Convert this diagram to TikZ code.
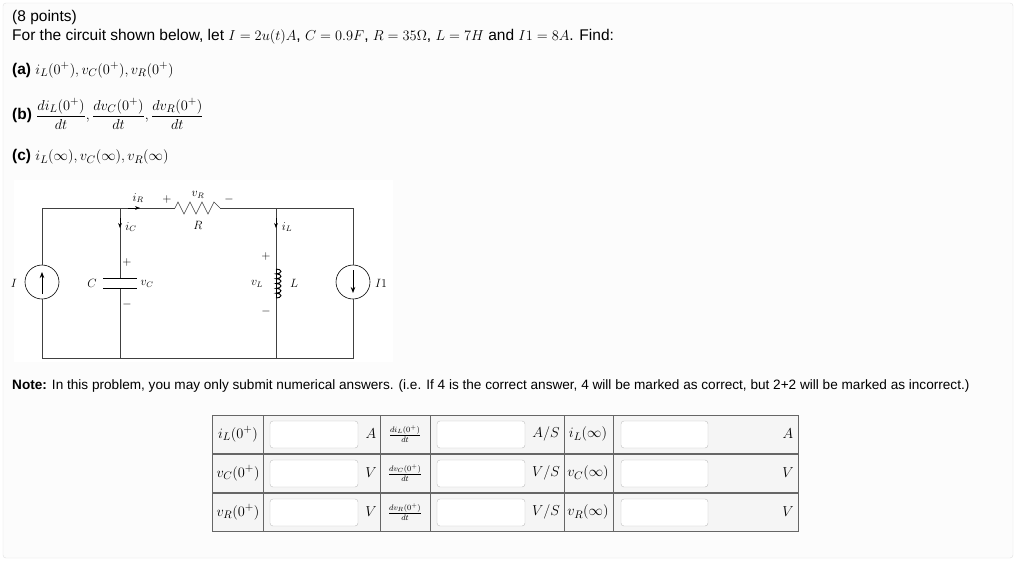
\documentclass[tikz,border=0pt]{standalone}
\usepackage{fontspec}
\setsansfont{Liberation Sans}
\usetikzlibrary{arrows.meta}
\begin{document}
\begin{tikzpicture}[x=1pt,y=-1pt,
  txt/.style={anchor=west,font=\sffamily\fontsize{15.5}{17}\selectfont,inner sep=0},
  wire/.style={draw=black!75,line width=0.6pt},
  lab/.style={font=\fontsize{12}{13}\selectfont,inner sep=1pt},
  cell/.style={draw=black!60,fill=black!4,line width=0.6pt},
  inbox/.style={draw=black!25,fill=white,rounded corners=3pt},
  tl/.style={font=\fontsize{15}{17}\selectfont,inner sep=1pt}]
\useasboundingbox (0,0) rectangle (1024,581);
\fill[white] (0,0) rectangle (1024,581);
\draw[black!12,fill=black!1,rounded corners=3pt] (3,3) rectangle (1013,558);
\node[txt] (t1) at (12,17) {(8 points)};
\node[txt] (t2) at (12,37) {For the circuit shown below, let $I=2u(t)A$, $C=0.9F$, $R=35\Omega$, $L=7H$ and $I1=8A$. Find:};
\node[txt] (ta) at (12,70) {\textbf{(a)} $i_L(0^+), v_C(0^+), v_R(0^+)$};
\node[txt] (tb) at (12,114) {\textbf{(b)} $\displaystyle\frac{di_L(0^+)}{dt},\frac{dv_C(0^+)}{dt},\frac{dv_R(0^+)}{dt}$};
\node[txt] (tc) at (12,157) {\textbf{(c)} $i_L(\infty), v_C(\infty), v_R(\infty)$};
% circuit
\fill[white] (14,180) rectangle (393,362);
\coordinate (tl0) at (42,208); \coordinate (bl0) at (42,358);
\coordinate (tc0) at (120,208); \coordinate (bc0) at (120,358);
\coordinate (tL0) at (276,208); \coordinate (bL0) at (276,358);
\coordinate (tr0) at (353,208); \coordinate (br0) at (353,358);
\coordinate (r1) at (175,208); \coordinate (r2) at (220,208);
\node[circle,draw=black,line width=0.6pt,minimum size=34pt,inner sep=0] (si) at (42,282) {};
\node[circle,draw=black,line width=0.6pt,minimum size=34pt,inner sep=0] (s1) at (353,282) {};
\draw[wire] (tl0) -- (si.north) (si.south) -- (bl0) -- (br0) -- (s1.south) (s1.north) -- (tr0) -- (r2);
\draw[wire] (r1) -- (tl0);
\draw[wire] (r1) -- ++(3,-6) -- ++(6,12) -- ++(6,-12) -- ++(6,12) -- ++(6,-12) -- ++(6,12) -- ++(6,-12) -- (r2);
\draw[-{Stealth[length=6pt]},line width=0.8pt] (42,294) -- (42,272);
\draw[-{Stealth[length=6pt]},line width=0.8pt] (353,270) -- (353,293);
\draw[wire] (tc0) -- (120,278) (120,288) -- (bc0);
\draw[line width=0.8pt] (103,278) -- (137,278) (103,288) -- (137,288);
\draw[wire] (tL0) -- (276,269) (276,298) -- (bL0);
\draw[line width=0.9pt] (276,269) \foreach \i in {1,...,6}{ arc[start angle=90,end angle=-90,x radius=5pt,y radius=2.42pt]};
\draw[line width=0.9pt] (276,269) -- (276,298);
\draw[-{Stealth[length=5pt]},line width=0.5pt] (120,218) -- (120,228);
\draw[-{Stealth[length=5pt]},line width=0.5pt] (276,218) -- (276,228);
\draw[-{Stealth[length=5pt]},line width=0.5pt] (128,208) -- (140,208);
\node[lab] (liR) at (138,198) {$i_R$};
\node[lab] (lvR) at (198,195) {$v_R$};
\node[lab] (lpR) at (167,199) {$+$};
\node[lab] (lmR) at (229,199) {$-$};
\node[lab] (lR) at (198,225) {$R$};
\node[lab] (liC) at (131,227) {$i_C$};
\node[lab] (liL) at (287,227) {$i_L$};
\node[lab] (lpC) at (127,262) {$+$};
\node[lab] (lmC) at (127,304) {$-$};
\node[lab] (lC) at (92,283) {$C$};
\node[lab] (lvC) at (147,284) {$v_C$};
\node[lab] (lpL) at (266,256) {$+$};
\node[lab] (lmL) at (266,311) {$-$};
\node[lab] (lvL) at (257,284) {$v_L$};
\node[lab] (lL) at (294,283) {$L$};
\node[lab] (lI) at (14,283) {$I$};
\node[lab] (lI1) at (381,283) {$I1$};
% note
\node[txt,font=\sffamily\fontsize{13.6}{16}\selectfont] (note) at (12,386) {\textbf{Note:} In this problem, you may only submit numerical answers. (i.e. If 4 is the correct answer, 4 will be marked as correct, but 2+2 will be marked as incorrect.)};
% table
\foreach \y [count=\r] in {415,454,493}{
  \draw[cell] (212,\y) rectangle (263,\y+38);
  \draw[cell] (263,\y) rectangle (380,\y+38);
  \draw[cell] (380,\y) rectangle (430,\y+38);
  \draw[cell] (430,\y) rectangle (564,\y+38);
  \draw[cell] (564,\y) rectangle (613,\y+38);
  \draw[cell] (613,\y) rectangle (798,\y+38);
  \draw[inbox] (270,\y+6) rectangle (358,\y+33);
  \draw[inbox] (437,\y+6) rectangle (525,\y+33);
  \draw[inbox] (621,\y+6) rectangle (708,\y+33);
}
\node[tl] (a1) at (238,434) {$i_L(0^+)$};
\node[tl] (a2) at (238,473) {$v_C(0^+)$};
\node[tl] (a3) at (238,512) {$v_R(0^+)$};
\node[tl] (u1) at (371,434) {$A$};
\node[tl] (u2) at (371,473) {$V$};
\node[tl] (u3) at (371,512) {$V$};
\node[tl,font=\fontsize{12}{13}\selectfont] (b1) at (405,434) {$\frac{di_L(0^+)}{dt}$};
\node[tl,font=\fontsize{12}{13}\selectfont] (b2) at (405,473) {$\frac{dv_C(0^+)}{dt}$};
\node[tl,font=\fontsize{12}{13}\selectfont] (b3) at (405,512) {$\frac{dv_R(0^+)}{dt}$};
\node[tl] (w1) at (546,434) {$A/S$};
\node[tl] (w2) at (546,473) {$V/S$};
\node[tl] (w3) at (546,512) {$V/S$};
\node[tl] (c1) at (588,434) {$i_L(\infty)$};
\node[tl] (c2) at (588,473) {$v_C(\infty)$};
\node[tl] (c3) at (588,512) {$v_R(\infty)$};
\node[tl] (x1) at (788,434) {$A$};
\node[tl] (x2) at (788,473) {$V$};
\node[tl] (x3) at (788,512) {$V$};
\end{tikzpicture}
\end{document}
